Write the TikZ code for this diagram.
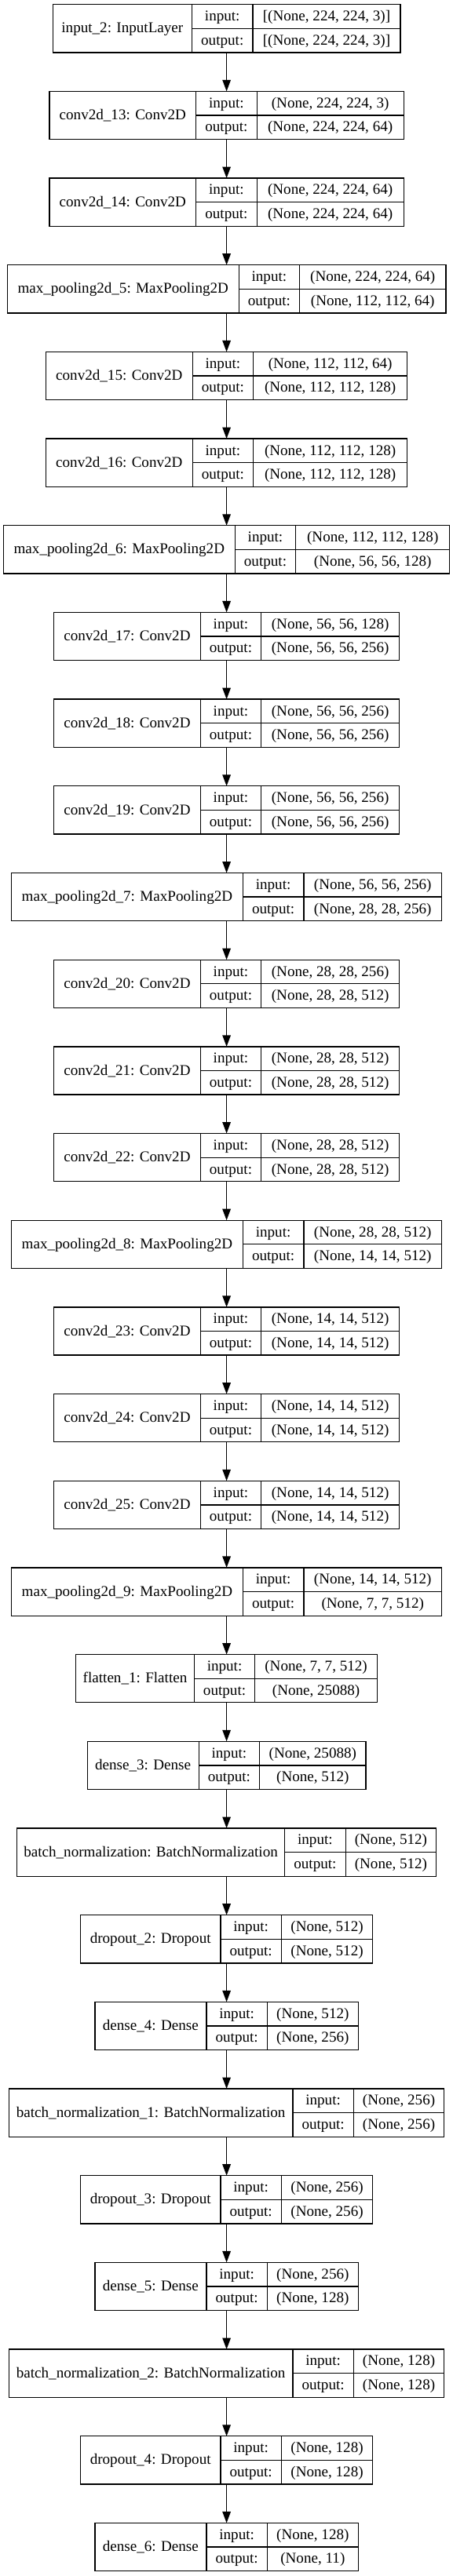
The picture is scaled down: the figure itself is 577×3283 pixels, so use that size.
\documentclass[tikz,border=0pt]{standalone}
\usepackage{fontspec}
\setmainfont{Liberation Serif}
\usetikzlibrary{arrows.meta}
\tikzset{
  box/.style={draw=black, line width=1.3pt, minimum height=61.2pt, inner sep=0pt, outer sep=0pt},
  divider/.style={draw=black, line width=1.3pt},
  lbl/.style={anchor=base, inner sep=0pt, font=\fontsize{19.1}{23}\selectfont},
  arr/.style={draw=black, line width=1.3pt, -{Triangle[length=14.5pt,width=10.5pt]}}
}
\newcommand\layer[6]{%
  \pgfmathsetmacro\W{#2+77.5+#3}%
  \pgfmathsetmacro\yt{5.7+#1*110.68}%
  \pgfmathsetmacro\ym{\yt+30.6}%
  \pgfmathsetmacro\xl{288.6-\W/2}%
  \pgfmathsetmacro\xa{\xl+#2}%
  \pgfmathsetmacro\xb{\xa+77.5}%
  \pgfmathsetmacro\xr{\xl+\W}%
  \node[box, minimum width=\W pt] (L#1) at (288.6,\ym) {};
  \draw[divider] (\xa,\yt) -- (\xa,\yt+61.2);
  \draw[divider] (\xb,\yt) -- (\xb,\yt+61.2);
  \draw[divider] (\xa,\ym) -- (\xr,\ym);
  \node[lbl] (L#1n) at ({(\xl+\xa)/2},\ym+5.6) {#4};
  \node[lbl] (L#1i) at ({(\xa+\xb)/2},\yt+15.3+5.6) {input:};
  \node[lbl] (L#1o) at ({(\xa+\xb)/2},\yt+45.9+5.6) {output:};
  \node[lbl] (L#1is) at ({(\xb+\xr)/2},\yt+15.3+5.6) {#5};
  \node[lbl] (L#1os) at ({(\xb+\xr)/2},\yt+45.9+5.6) {#6};
}
\begin{document}
\begin{tikzpicture}[x=1pt,y=-1pt]
\useasboundingbox (0,0) rectangle (577,3283);
\fill[white] (0,0) rectangle (577,3283);
\layer{0}{177.3}{188}{input\_2: InputLayer}{[(None, 224, 224, 3)]}{[(None, 224, 224, 3)]}
\layer{1}{186.6}{187}{conv2d\_13: Conv2D}{(None, 224, 224, 3)}{(None, 224, 224, 64)}
\layer{2}{186.6}{187}{conv2d\_14: Conv2D}{(None, 224, 224, 64)}{(None, 224, 224, 64)}
\layer{3}{294.8}{186.2}{max\_pooling2d\_5: MaxPooling2D}{(None, 224, 224, 64)}{(None, 112, 112, 64)}
\layer{4}{186.6}{196}{conv2d\_15: Conv2D}{(None, 112, 112, 64)}{(None, 112, 112, 128)}
\layer{5}{186.6}{196}{conv2d\_16: Conv2D}{(None, 112, 112, 128)}{(None, 112, 112, 128)}
\layer{6}{294.8}{196}{max\_pooling2d\_6: MaxPooling2D}{(None, 112, 112, 128)}{(None, 56, 56, 128)}
\layer{7}{186.6}{175.8}{conv2d\_17: Conv2D}{(None, 56, 56, 128)}{(None, 56, 56, 256)}
\layer{8}{186.6}{175.8}{conv2d\_18: Conv2D}{(None, 56, 56, 256)}{(None, 56, 56, 256)}
\layer{9}{186.6}{175.8}{conv2d\_19: Conv2D}{(None, 56, 56, 256)}{(None, 56, 56, 256)}
\layer{10}{294.8}{175.8}{max\_pooling2d\_7: MaxPooling2D}{(None, 56, 56, 256)}{(None, 28, 28, 256)}
\layer{11}{186.6}{175.8}{conv2d\_20: Conv2D}{(None, 28, 28, 256)}{(None, 28, 28, 512)}
\layer{12}{186.6}{175.8}{conv2d\_21: Conv2D}{(None, 28, 28, 512)}{(None, 28, 28, 512)}
\layer{13}{186.6}{175.8}{conv2d\_22: Conv2D}{(None, 28, 28, 512)}{(None, 28, 28, 512)}
\layer{14}{294.8}{175.8}{max\_pooling2d\_8: MaxPooling2D}{(None, 28, 28, 512)}{(None, 14, 14, 512)}
\layer{15}{186.6}{175.8}{conv2d\_23: Conv2D}{(None, 14, 14, 512)}{(None, 14, 14, 512)}
\layer{16}{186.6}{175.8}{conv2d\_24: Conv2D}{(None, 14, 14, 512)}{(None, 14, 14, 512)}
\layer{17}{186.6}{175.8}{conv2d\_25: Conv2D}{(None, 14, 14, 512)}{(None, 14, 14, 512)}
\layer{18}{294.8}{175.8}{max\_pooling2d\_9: MaxPooling2D}{(None, 14, 14, 512)}{(None, 7, 7, 512)}
\layer{19}{150.5}{155.6}{flatten\_1: Flatten}{(None, 7, 7, 512)}{(None, 25088)}
\layer{20}{142}{135.4}{dense\_3: Dense}{(None, 25088)}{(None, 512)}
\layer{21}{341.2}{115.6}{batch\_normalization: BatchNormalization}{(None, 512)}{(None, 512)}
\layer{22}{178.4}{116.3}{dropout\_2: Dropout}{(None, 512)}{(None, 512)}
\layer{23}{142}{115.9}{dense\_4: Dense}{(None, 512)}{(None, 256)}
\layer{24}{361.4}{115.4}{batch\_normalization\_1: BatchNormalization}{(None, 256)}{(None, 256)}
\layer{25}{178.4}{116.3}{dropout\_3: Dropout}{(None, 256)}{(None, 256)}
\layer{26}{142}{115.9}{dense\_5: Dense}{(None, 256)}{(None, 128)}
\layer{27}{361.4}{115.4}{batch\_normalization\_2: BatchNormalization}{(None, 128)}{(None, 128)}
\layer{28}{178.4}{116.3}{dropout\_4: Dropout}{(None, 128)}{(None, 128)}
\layer{29}{142}{115.9}{dense\_6: Dense}{(None, 128)}{(None, 11)}
\foreach \i in {0,...,28} {
  \pgfmathtruncatemacro\j{\i+1}
  \draw[arr] (L\i.south) -- (L\j.north);
}
\end{tikzpicture}
\end{document}
